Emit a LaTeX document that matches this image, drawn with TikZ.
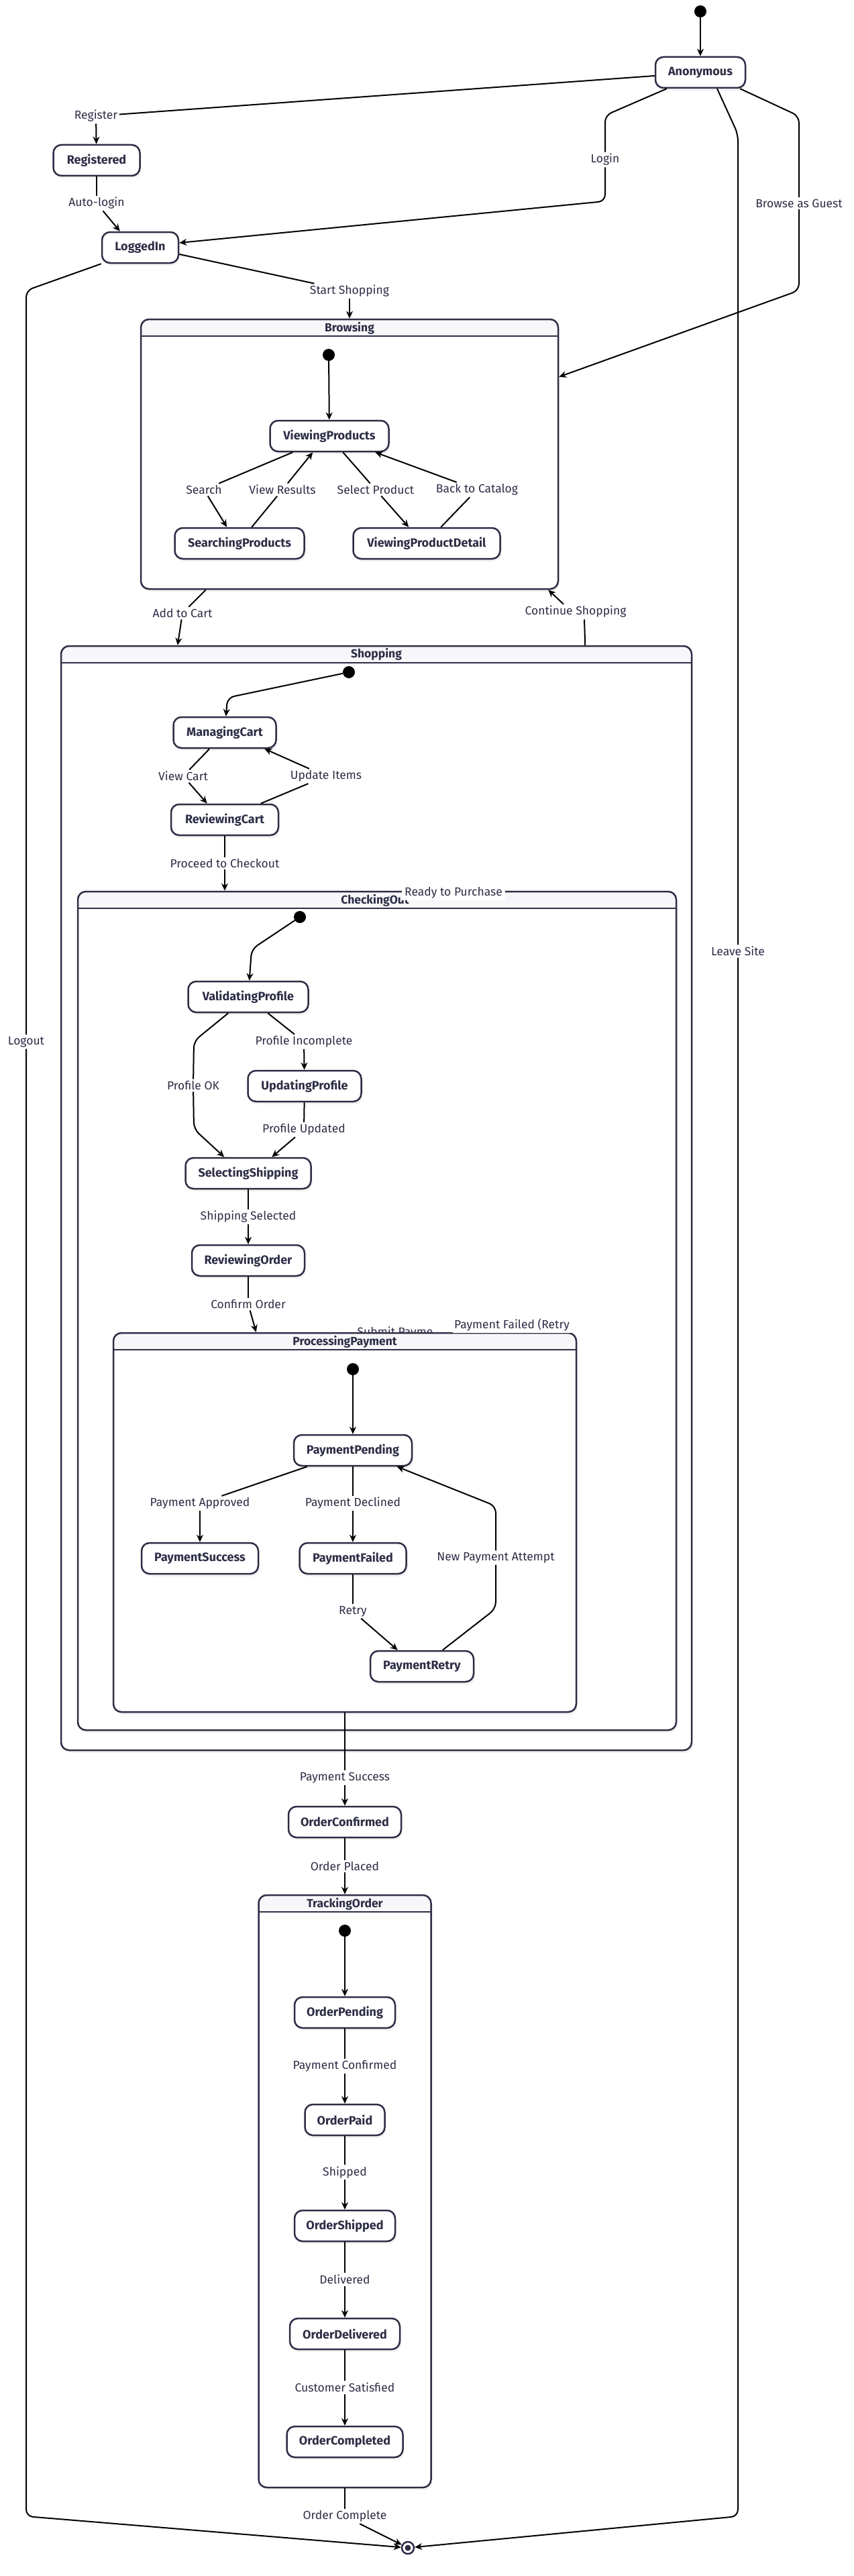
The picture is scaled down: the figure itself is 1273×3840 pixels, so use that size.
\documentclass[tikz,border=0pt]{standalone}
\usepackage{fontspec}
\setmainfont{Fira Sans}
\usetikzlibrary{arrows.meta,shadows}

\definecolor{nodeline}{HTML}{2D2D46}
\definecolor{headfill}{HTML}{F7F7FA}

\tikzset{
  stbox/.style={draw=nodeline, line width=2.5pt, fill=white, rounded corners=12pt,
    minimum height=46pt, inner sep=0pt, text=nodeline,
    font=\fontsize{18}{21}\selectfont\bfseries,
    drop shadow={shadow xshift=2pt, shadow yshift=-4pt, opacity=0.1}},
  compbox/.style={draw=nodeline, line width=2.5pt, fill=white, rounded corners=12pt,
    inner sep=0pt, drop shadow={shadow xshift=2pt, shadow yshift=-4pt, opacity=0.1},
    path picture={
      \fill[headfill, sharp corners] (path picture bounding box.north west)
        rectangle ([yshift=-25pt]path picture bounding box.north east);
      \draw[nodeline, line width=2.5pt] ([yshift=-25pt]path picture bounding box.north west)
        -- ([yshift=-25pt]path picture bounding box.north east);}},
  comptitle/.style={text=nodeline, inner sep=0pt, font=\fontsize{17.5}{20}\selectfont\bfseries},
  lbl/.style={fill=white, text=nodeline, inner sep=2.5pt, font=\fontsize{17.5}{20}\selectfont},
  startdot/.style={circle, fill=black, minimum size=18pt, inner sep=0pt},
  enddot/.style={circle, draw=nodeline, line width=2.5pt, fill=white, minimum size=18pt, inner sep=0pt},
  trans/.style={draw=black, line width=2pt, rounded corners=10pt},
  transarr/.style={trans, -{Stealth[length=11pt, width=10pt]}}
}

\begin{document}
\begin{tikzpicture}[x=1pt, y=-1pt]
\useasboundingbox (0,0) rectangle (1273,3840);

\node[compbox, minimum width=622pt, minimum height=402pt] (Browsing) at (521,677) {};
\node[compbox, minimum width=940pt, minimum height=1646pt] (Shopping) at (561,1786) {};
\node[compbox, minimum width=892pt, minimum height=1250pt] (CheckingOut) at (562,1954) {};
\node[lbl, fill=none] (lSubmit) at (589,1987) {Submit Payme};
\node[compbox, minimum width=690pt, minimum height=565pt] (ProcessingPayment) at (514,2269.5) {};
\node[compbox, minimum width=257pt, minimum height=883pt] (TrackingOrder) at (514,3266.5) {};

\node[comptitle] at (521,489) {Browsing};
\node[comptitle] at (561,975) {Shopping};
\node[comptitle] at (559,1342) {CheckingOut};
\node[comptitle] at (514,2000) {ProcessingPayment};
\node[comptitle] at (514,2838) {TrackingOrder};

\node[startdot] (init) at (1044,17) {};
\node[stbox, minimum width=134pt] (Anonymous) at (1044,108) {Anonymous};
\node[stbox, minimum width=129pt] (Registered) at (144,239) {Registered};
\node[stbox, minimum width=114pt] (LoggedIn) at (209,369) {LoggedIn};
\node[enddot] (final) at (608,3798) {};
\fill[nodeline] (final) circle (4.5pt);

\node[startdot] (initBrowse) at (490,529) {};
\node[stbox, minimum width=177pt] (ViewingProducts) at (491,650) {ViewingProducts};
\node[stbox, minimum width=193pt] (SearchingProducts) at (357,810) {SearchingProducts};
\node[stbox, minimum width=219pt] (ViewingProductDetail) at (636,810) {ViewingProductDetail};

\node[startdot] (initShop) at (520,1002) {};
\node[stbox, minimum width=153pt] (ManagingCart) at (335,1092) {ManagingCart};
\node[stbox, minimum width=160pt] (ReviewingCart) at (335,1222) {ReviewingCart};

\node[startdot] (initCheck) at (447,1367) {};
\node[stbox, minimum width=179pt] (ValidatingProfile) at (370,1486) {ValidatingProfile};
\node[stbox, minimum width=169pt] (UpdatingProfile) at (454,1619) {UpdatingProfile};
\node[stbox, minimum width=187pt] (SelectingShipping) at (370,1749) {SelectingShipping};
\node[stbox, minimum width=168pt] (ReviewingOrder) at (370,1879) {ReviewingOrder};

\node[startdot] (initPay) at (526,2041) {};
\node[stbox, minimum width=176pt] (PaymentPending) at (526,2162) {PaymentPending};
\node[stbox, minimum width=174pt] (PaymentSuccess) at (298,2323) {PaymentSuccess};
\node[stbox, minimum width=159pt] (PaymentFailed) at (526,2323) {PaymentFailed};
\node[stbox, minimum width=154pt] (PaymentRetry) at (629,2484) {PaymentRetry};

\node[stbox, minimum width=168pt] (OrderConfirmed) at (514,2716) {OrderConfirmed};

\node[startdot] (initTrack) at (514,2878) {};
\node[stbox, minimum width=150pt] (OrderPending) at (514,3000) {OrderPending};
\node[stbox, minimum width=119pt] (OrderPaid) at (514,3160) {OrderPaid};
\node[stbox, minimum width=150pt] (OrderShipped) at (514,3318) {OrderShipped};
\node[stbox, minimum width=164pt] (OrderDelivered) at (514,3479) {OrderDelivered};
\node[stbox, minimum width=173pt] (OrderCompleted) at (514,3640) {OrderCompleted};

\node[lbl] (lRegister) at (143,173) {Register};
\node[lbl] (lAutoLogin) at (144,303) {Auto-login};
\node[lbl] (lLogin) at (902,238) {Login};
\node[lbl] (lGuest) at (1191,303) {Browse as Guest};
\node[lbl] (lStart) at (521,434) {Start Shopping};
\node[lbl] (lLogout) at (39,1553) {Logout};
\node[lbl] (lLeave) at (1100,1418) {Leave Site};
\node[lbl] (lSearch) at (304,730) {Search};
\node[lbl] (lViewResults) at (421,730) {View Results};
\node[lbl] (lSelect) at (560,730) {Select Product};
\node[lbl] (lBack) at (711,730) {Back to Catalog};
\node[lbl] (lAddCart) at (272,914) {Add to Cart};
\node[lbl] (lContinue) at (858,912) {Continue Shopping};
\node[lbl] (lViewCart) at (273,1157) {View Cart};
\node[lbl] (lUpdateItems) at (486,1157) {Update Items};
\node[lbl] (lProceed) at (335,1287) {Proceed to Checkout};
\node[lbl, inner sep=0pt, minimum width=154pt, minimum height=22pt] (lReady) at (676,1331) {Ready to Purchase};
\node[lbl] (lIncomplete) at (453,1553) {Profile Incomplete};
\node[lbl] (lProfileOK) at (288,1618) {Profile OK};
\node[lbl] (lUpdated) at (453,1684) {Profile Updated};
\node[lbl] (lShipSel) at (370,1814) {Shipping Selected};
\node[lbl] (lConfirm) at (370,1944) {Confirm Order};
\node[lbl] (lRetryFail) at (763,1975) {Payment Failed (Retry};
\node[lbl] (lApproved) at (298,2241) {Payment Approved};
\node[lbl] (lDeclined) at (526,2241) {Payment Declined};
\node[lbl] (lNewAttempt) at (739,2322) {New Payment Attempt};
\node[lbl] (lRetry) at (526,2402) {Retry};
\node[lbl] (lPaySuccess) at (514,2650) {Payment Success};
\node[lbl] (lOrderPlaced) at (514,2782) {Order Placed};
\node[lbl] (lPayConfirmed) at (514,3080) {Payment Confirmed};
\node[lbl] (lShipped) at (514,3238) {Shipped};
\node[lbl] (lDelivered) at (514,3398) {Delivered};
\node[lbl] (lSatisfied) at (514,3559) {Customer Satisfied};
\node[lbl] (lComplete) at (514,3751) {Order Complete};

\draw[transarr] (init) -- (Anonymous);
\draw[trans] ([yshift=-5pt]Anonymous.west) -- (lRegister);
\draw[transarr] (lRegister) -- (Registered);
\draw[trans] (Registered) -- (lAutoLogin);
\draw[transarr] (lAutoLogin) -- ([xshift=28pt]LoggedIn.north west);
\draw[trans] ([xshift=18pt]Anonymous.south west) -- (902,172) -- (lLogin);
\draw[transarr] (lLogin) -- (902,300) -- ([yshift=7pt]LoggedIn.east);
\draw[trans] ([xshift=-9pt]Anonymous.south east) -- (1191,173) -- (lGuest);
\draw[transarr] (lGuest) -- (1191,433) -- ([yshift=-87pt]Browsing.north east);
\draw[trans] ([xshift=25pt]Anonymous.south) -- (1100,200) -- (lLeave);
\draw[transarr] (lLeave) -- (1100,3751) -- (final);
\draw[trans] (LoggedIn.south west) -- (39,433) -- (lLogout);
\draw[transarr] (lLogout) -- (39,3751) -- (final);
\draw[trans] ([yshift=-10pt]LoggedIn.east) -- (lStart);
\draw[transarr] (lStart) -- (Browsing.north);

\draw[transarr] (initBrowse) -- (ViewingProducts);
\draw[trans] ([xshift=35pt]ViewingProducts.south west) -- (lSearch);
\draw[transarr] (lSearch) -- ([xshift=79pt]SearchingProducts.north west);
\draw[trans] ([xshift=116pt]SearchingProducts.north west) -- (lViewResults);
\draw[transarr] (lViewResults) -- ([xshift=65pt]ViewingProducts.south west);
\draw[trans] ([xshift=110pt]ViewingProducts.south west) -- (lSelect);
\draw[transarr] (lSelect) -- ([xshift=84pt]ViewingProductDetail.north west);
\draw[trans] ([xshift=132pt]ViewingProductDetail.north west) -- (lBack);
\draw[transarr] (lBack) -- ([xshift=158pt]ViewingProducts.south west);

\draw[trans] ([xshift=98pt]Browsing.south west) -- (lAddCart);
\draw[transarr] (lAddCart) -- ([xshift=175pt]Shopping.north west);
\draw[trans] ([xshift=-160pt]Shopping.north east) -- ([xshift=13pt]lContinue.south);
\draw[transarr] ([xshift=-18pt]lContinue.north) -- ([xshift=-16pt]Browsing.south east);

\draw[transarr] (initShop) -- (339,1040) -- (ManagingCart);
\draw[trans] ([xshift=55pt]ManagingCart.south west) -- (lViewCart);
\draw[transarr] (lViewCart) -- ([xshift=55pt]ReviewingCart.north west);
\draw[trans] ([xshift=135pt]ReviewingCart.north west) -- (lUpdateItems);
\draw[transarr] (lUpdateItems) -- ([xshift=137pt]ManagingCart.south west);
\draw[trans] (ReviewingCart) -- (lProceed);
\draw[transarr] (lProceed) -- (lProceed |- CheckingOut.north);

\draw[transarr] (initCheck) -- (375,1415) -- (ValidatingProfile);
\draw[trans] ([xshift=120pt]ValidatingProfile.south west) -- (lIncomplete);
\draw[transarr] (lIncomplete) -- (UpdatingProfile);
\draw[trans] ([xshift=61pt]ValidatingProfile.south west) -- (289,1552) -- (lProfileOK);
\draw[transarr] (lProfileOK) -- (289,1683) -- ([xshift=59pt]SelectingShipping.north west);
\draw[trans] (UpdatingProfile) -- (lUpdated);
\draw[transarr] (lUpdated) -- ([xshift=130pt]SelectingShipping.north west);
\draw[trans] (SelectingShipping) -- (lShipSel);
\draw[transarr] (lShipSel) -- (ReviewingOrder);
\draw[trans] (ReviewingOrder) -- (lConfirm);
\draw[transarr] (lConfirm) -- ([xshift=214pt]ProcessingPayment.north west);

\draw[transarr] (initPay) -- (PaymentPending);
\draw[trans] ([xshift=21pt]PaymentPending.south west) -- (lApproved);
\draw[transarr] (lApproved) -- (PaymentSuccess);
\draw[trans] (PaymentPending) -- (lDeclined);
\draw[transarr] (lDeclined) -- (PaymentFailed);
\draw[trans] (PaymentFailed) -- (lRetry);
\draw[transarr] (lRetry) -- ([xshift=42pt]PaymentRetry.north west);
\draw[trans] ([xshift=109pt]PaymentRetry.north west) -- (739,2398) -- (lNewAttempt);
\draw[transarr] (lNewAttempt) -- (739,2245) -- ([xshift=155pt]PaymentPending.south west);

\draw[trans] (ProcessingPayment.south) -- (lPaySuccess);
\draw[transarr] (lPaySuccess) -- (OrderConfirmed);
\draw[trans] (OrderConfirmed) -- (lOrderPlaced);
\draw[transarr] (lOrderPlaced) -- (TrackingOrder.north);

\draw[transarr] (initTrack) -- (OrderPending);
\draw[trans] (OrderPending) -- (lPayConfirmed);
\draw[transarr] (lPayConfirmed) -- (OrderPaid);
\draw[trans] (OrderPaid) -- (lShipped);
\draw[transarr] (lShipped) -- (OrderShipped);
\draw[trans] (OrderShipped) -- (lDelivered);
\draw[transarr] (lDelivered) -- (OrderDelivered);
\draw[trans] (OrderDelivered) -- (lSatisfied);
\draw[transarr] (lSatisfied) -- (OrderCompleted);
\draw[trans] (TrackingOrder.south) -- (lComplete);
\draw[transarr] (lComplete) -- (final);
\end{tikzpicture}
\end{document}
